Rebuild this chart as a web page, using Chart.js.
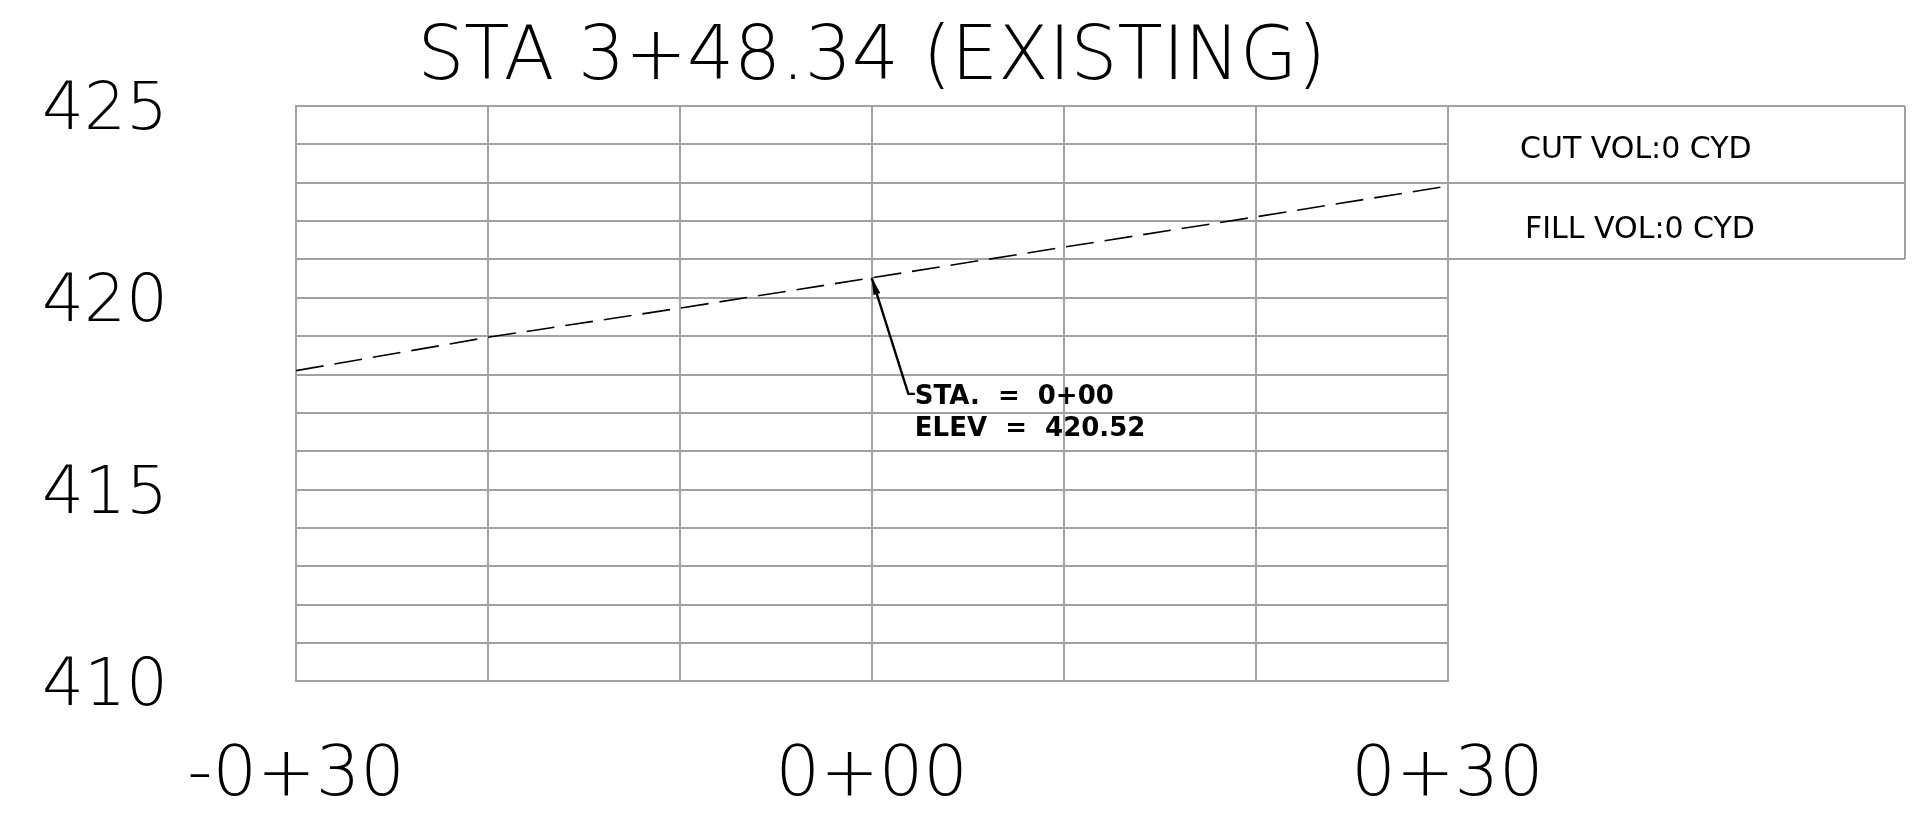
<!DOCTYPE html>
<html>
<head>
<meta charset="utf-8">
<title>STA 3+48.34 (EXISTING)</title>
<script src="https://cdn.jsdelivr.net/npm/chart.js@4.4.1/dist/chart.umd.min.js"></script>
<style>
  html, body { margin: 0; padding: 0; background: #ffffff; }
  #wrap { width: 1925px; height: 824px; }
</style>
</head>
<body>
<div id="wrap"><canvas id="c" width="1925" height="824"></canvas></div>
<script>
// ---- data ----
const titleText = 'STA 3+48.34 (EXISTING)';
const stations = [-30, -20, -10, 0, 10, 20, 30];
const elevations = [418.10, 418.97, 419.73, 420.52, 421.32, 422.11, 422.91];
const xTickValues = [-30, 0, 30];
const xTickLabels = ['-0+30', '0+00', '0+30'];
const yTickValues = [410, 415, 420, 425];
const yTickLabels = ['410', '415', '420', '425'];
const annotStation = 0;
const annotElevation = 420.52;
const annotLines = ['STA.  =  0+00', 'ELEV  =  ' + annotElevation.toFixed(2)];
const volumeLabels = ['CUT VOL:0 CYD', 'FILL VOL:0 CYD'];

const GRID = '#a2a2a2';
const THIN = '"DejaVu Sans", sans-serif';

const overlay = {
  id: 'overlay',
  afterDatasetsDraw(chart) {
    const ctx = chart.ctx;
    const xs = chart.scales.x, ys = chart.scales.y;
    const area = chart.chartArea;
    // leader + arrow
    const px = xs.getPixelForValue(annotStation);
    const py = ys.getPixelForValue(annotElevation);
    const ex = px + 36.6, ey = py + 116;
    ctx.save();
    ctx.strokeStyle = '#000';
    ctx.fillStyle = '#000';
    ctx.lineWidth = 2.4;
    ctx.beginPath();
    ctx.moveTo(px, py);
    ctx.lineTo(ex, ey);
    ctx.lineTo(ex + 6.5, ey);
    ctx.stroke();
    const ang = Math.atan2(py - ey, px - ex);
    const L = 17, W = 3.6;
    const bx = px - L * Math.cos(ang), by = py - L * Math.sin(ang);
    ctx.beginPath();
    ctx.moveTo(px, py);
    ctx.lineTo(bx + W * Math.sin(ang), by - W * Math.cos(ang));
    ctx.lineTo(bx - W * Math.sin(ang), by + W * Math.cos(ang));
    ctx.closePath();
    ctx.fill();
    ctx.font = 'bold 26px "DejaVu Sans", sans-serif';
    ctx.textAlign = 'left';
    ctx.textBaseline = 'middle';
    ctx.fillText(annotLines[0], ex + 6.5, ey + 3);
    ctx.fillText(annotLines[1], ex + 6.5, ey + 35);
    ctx.restore();

    // volume box
    const left = area.right, right = chart.width - 20;
    const r0 = ys.getPixelForValue(425), r1 = ys.getPixelForValue(423), r2 = ys.getPixelForValue(421);
    ctx.save();
    ctx.strokeStyle = GRID;
    ctx.lineWidth = 2;
    ctx.beginPath();
    ctx.moveTo(left, Math.round(r0)); ctx.lineTo(right, Math.round(r0));
    ctx.moveTo(left, Math.round(r1)); ctx.lineTo(right, Math.round(r1));
    ctx.moveTo(left, Math.round(r2)); ctx.lineTo(right, Math.round(r2));
    ctx.moveTo(right, Math.round(r0)); ctx.lineTo(right, Math.round(r2));
    ctx.stroke();
    ctx.fillStyle = '#000';
    ctx.font = '30px "DejaVu Sans", sans-serif';
    ctx.textAlign = 'left';
    ctx.textBaseline = 'middle';
    ctx.fillText(volumeLabels[0], left + 72.5, (r0 + r1) / 2 + 6);
    ctx.fillText(volumeLabels[1], left + 77.5, (r1 + r2) / 2 + 9);
    ctx.restore();
  }
};

new Chart(document.getElementById('c'), {
  type: 'line',
  data: {
    datasets: [{
      data: stations.map((s, i) => ({ x: s, y: elevations[i] })),
      borderColor: '#000',
      borderWidth: 1.6,
      borderDash: [28, 11],
      pointRadius: 0,
      tension: 0,
      fill: false
    }]
  },
  options: {
    responsive: false,
    animation: false,
    devicePixelRatio: 1,
    layout: { padding: { left: 42, right: 477.5, top: 0, bottom: 17 } },
    plugins: {
      legend: { display: false },
      tooltip: { enabled: false },
      title: {
        display: true,
        text: titleText,
        fullSize: false,
        color: '#000',
        font: { family: THIN, size: 74, weight: 200, lineHeight: 1 },
        padding: { top: 23, bottom: 9 }
      }
    },
    scales: {
      x: {
        type: 'linear',
        min: -30, max: 30,
        afterBuildTicks(scale) {
          scale.ticks = [-30, -20, -10, 0, 10, 20, 30].map(v => ({ value: v }));
        },
        afterFit(scale) { scale.height = 125.6; },
        grid: { color: GRID, lineWidth: 2, drawTicks: false },
        border: { color: GRID, width: 2 },
        ticks: {
          padding: 60,
          color: '#000',
          maxRotation: 0,
          autoSkip: false,
          font: { family: THIN, size: 70, weight: 200, lineHeight: 1 },
          callback(v) {
            const i = xTickValues.indexOf(v);
            return i >= 0 ? xTickLabels[i] : '';
          }
        }
      },
      y: {
        type: 'linear',
        min: 410, max: 425,
        afterBuildTicks(scale) {
          const t = [];
          for (let v = 410; v <= 425; v++) t.push({ value: v });
          scale.ticks = t;
        },
        afterFit(scale) { scale.width = 254; },
        grid: { color: GRID, lineWidth: 2, drawTicks: false },
        border: { color: GRID, width: 2 },
        ticks: {
          padding: 0,
          crossAlign: 'far',
          labelOffset: 6,
          color: '#000',
          autoSkip: false,
          font: { family: THIN, size: 66, weight: 200, lineHeight: 1 },
          callback(v) {
            const i = yTickValues.indexOf(v);
            return i >= 0 ? yTickLabels[i] : '';
          }
        }
      }
    }
  },
  plugins: [overlay]
});
</script>
</body>
</html>
